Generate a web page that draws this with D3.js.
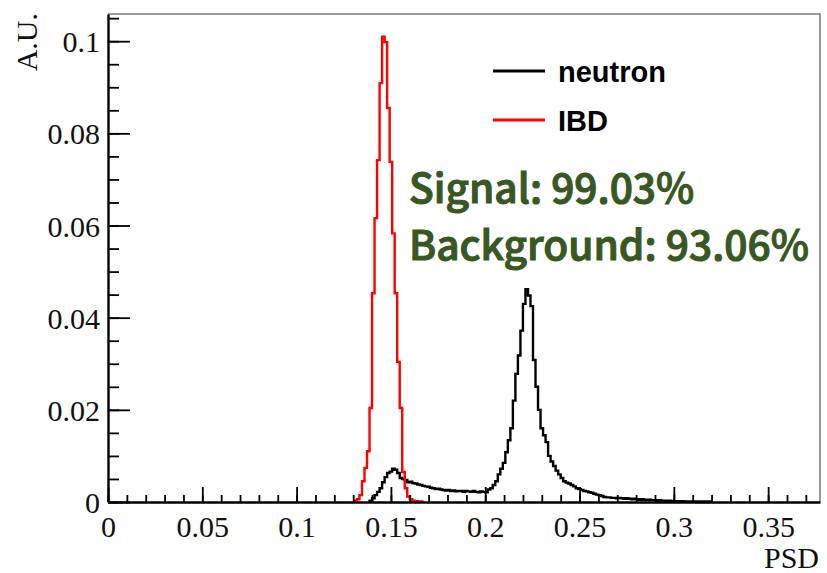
<!DOCTYPE html>
<html>
<head>
<meta charset="utf-8">
<script src="https://cdn.jsdelivr.net/npm/d3@7"></script>
<style>
  body { margin: 0; background: #fff; }
  svg { display: block; }
</style>
</head>
<body>
<svg id="chart"></svg>
<script>
// histogram binning (PSD)
const binWidth = 0.4 / 300;

// IBD histogram, first bin index 98
const ibdFirstBin = 98;
const ibdValues = [
  0.0003, 0.0006, 0.0015, 0.0045, 0.0074, 0.0110, 0.0204, 0.0453, 0.0616, 0.0742,
  0.0909, 0.1010, 0.0998, 0.0855, 0.0738, 0.0583, 0.0453, 0.0304, 0.0204, 0.0065,
  0.0030, 0.0012, 0.0006, 0.0003, 0.0002, 0.0001, 0.0001
];

// neutron histogram, first bin index 104
const neutronFirstBin = 104;
const neutronValues = [
  0.0003, 0.0008, 0.0015, 0.0022, 0.0030, 0.0043, 0.0054, 0.0063, 0.0066, 0.0072,
  0.0070, 0.0063, 0.0052, 0.0050, 0.0048, 0.0043, 0.0044, 0.0041, 0.0040, 0.0038,
  0.0037, 0.0035, 0.0034, 0.0033, 0.0031, 0.0030, 0.0028, 0.0029, 0.0027, 0.0026,
  0.0025, 0.0026, 0.0024, 0.0025, 0.0023, 0.0024, 0.0024, 0.0022, 0.0024, 0.0023,
  0.0022, 0.0024, 0.0022, 0.0021, 0.0023, 0.0022, 0.0021, 0.0027, 0.0030, 0.0037,
  0.0045, 0.0060, 0.0072, 0.0085, 0.0108, 0.0134, 0.0160, 0.0220, 0.0278, 0.0318,
  0.0372, 0.0430, 0.0462, 0.0448, 0.0425, 0.0308, 0.0250, 0.0200, 0.0160, 0.0145,
  0.0130, 0.0100, 0.0088, 0.0078, 0.0068, 0.0060, 0.0052, 0.0045, 0.0042, 0.0040,
  0.0037, 0.0034, 0.0030, 0.0028, 0.0026, 0.0024, 0.0023, 0.0021, 0.0020, 0.0018,
  0.0016, 0.0015, 0.0013, 0.0011, 0.0010, 0.0010, 0.0009, 0.0009, 0.0008, 0.0009,
  0.0008, 0.0007, 0.0008, 0.0007, 0.0006, 0.0007, 0.0006, 0.0005, 0.0006, 0.0005,
  0.0004, 0.0005, 0.0004, 0.0004, 0.0003, 0.0004, 0.0003, 0.0003, 0.0002, 0.0003,
  0.0002, 0.0002, 0.0002, 0.0001, 0.0002, 0.0001, 0.0001, 0.0001, 0.0001, 0.0001,
  0.0000, 0.0001, 0.0000, 0.0001, 0.0000, 0.0001
];

// axis ticks
const xTicks = [0, 0.05, 0.1, 0.15, 0.2, 0.25, 0.3, 0.35];
const xTickLabels = ["0", "0.05", "0.1", "0.15", "0.2", "0.25", "0.3", "0.35"];
const yTicks = [0, 0.02, 0.04, 0.06, 0.08, 0.1];
const yTickLabels = ["0", "0.02", "0.04", "0.06", "0.08", "0.1"];

const legendNames = ["neutron", "IBD"];
const legendColors = ["#000000", "#ff0000"];
const infoLines = ["Signal: 99.03%", "Background: 93.06%"];

const width = 827, height = 573;
const margin = {left: 108, right: 7, top: 14, bottom: 71};

const svg = d3.select('#chart')
    .attr('width', width)
    .attr('height', height);

svg.append('rect')
    .attr('width', width)
    .attr('height', height)
    .attr('fill', '#fff');

var xScale = d3.scaleLinear().domain([0, 0.3775]).range([margin.left, width - margin.right]);
var yScale = d3.scaleLinear().domain([0, 0.1059]).range([height - margin.bottom, margin.top]);

var x0 = xScale.range()[0], x1 = xScale.range()[1];
var y0 = yScale.range()[0], y1 = yScale.range()[1];

// grey frame (top, right)
svg.append('path')
    .attr('d', 'M' + x0 + ',' + y1 + 'H' + x1 + 'V' + y0)
    .attr('fill', 'none')
    .attr('stroke', '#7a7a7a')
    .attr('stroke-width', 1.5);

// step line for a histogram
function histPoints(firstBin, values) {
    var pts = [];
    var start = firstBin * binWidth;
    pts.push([xScale(start), yScale(0)]);
    values.forEach(function(v, i) {
        var a = start + i * binWidth;
        pts.push([xScale(a), yScale(v)]);
        pts.push([xScale(a + binWidth), yScale(v)]);
    });
    pts.push([xScale(start + values.length * binWidth), yScale(0)]);
    return pts;
}

var line = d3.line();

svg.append('path')
    .attr('d', line(histPoints(neutronFirstBin, neutronValues)))
    .attr('fill', 'none')
    .attr('stroke', legendColors[0])
    .attr('stroke-width', 2.4);

svg.append('path')
    .attr('d', line(histPoints(ibdFirstBin, ibdValues)))
    .attr('fill', 'none')
    .attr('stroke', legendColors[1])
    .attr('stroke-width', 2.4);

// x axis: minor ticks, then major ticks with labels
var xMinor = d3.range(0, 0.3775, 0.01);
svg.append('g')
    .attr('transform', 'translate(0,' + y0 + ')')
    .call(d3.axisBottom(xScale).tickValues(xMinor).tickSize(-7).tickFormat(''))
    .call(g => g.select('.domain').remove());

var gx = svg.append('g')
    .attr('transform', 'translate(0,' + y0 + ')')
    .call(d3.axisBottom(xScale)
        .tickValues(xTicks)
        .tickSizeInner(-15)
        .tickSizeOuter(0)
        .tickPadding(14)
        .tickFormat((d, i) => xTickLabels[i]));

// y axis
var yMinor = d3.range(0, 0.1059, 0.005);
svg.append('g')
    .attr('transform', 'translate(' + x0 + ',0)')
    .call(d3.axisLeft(yScale).tickValues(yMinor).tickSize(-11).tickFormat(''))
    .call(g => g.select('.domain').remove());

var gy = svg.append('g')
    .attr('transform', 'translate(' + x0 + ',0)')
    .call(d3.axisLeft(yScale)
        .tickValues(yTicks)
        .tickSizeInner(-22)
        .tickSizeOuter(0)
        .tickPadding(8)
        .tickFormat((d, i) => yTickLabels[i]));

svg.selectAll('.tick line').attr('stroke', '#000').attr('stroke-width', 1.8);
[gx, gy].forEach(function(g) {
    g.select('.domain').attr('stroke', '#000').attr('stroke-width', 2.4);
    g.selectAll('text')
        .attr('fill', '#111')
        .style('font-family', '"Liberation Serif", "Times New Roman", serif')
        .style('font-size', '30px');
});
gy.selectAll('text').attr('dy', '0.35em');

// axis titles
svg.append('text')
    .attr('transform', 'translate(37,' + (y1 - 1) + ') rotate(-90)')
    .attr('text-anchor', 'end')
    .style('font-family', '"Liberation Serif", "Times New Roman", serif')
    .style('font-size', '30px')
    .attr('fill', '#111')
    .text('A.U.');

svg.append('text')
    .attr('x', x1 - 1)
    .attr('y', 568)
    .attr('text-anchor', 'end')
    .style('font-family', '"Liberation Serif", "Times New Roman", serif')
    .style('font-size', '30px')
    .attr('fill', '#111')
    .text('PSD');

// legend
var legend = svg.append('g');
legendNames.forEach(function(name, i) {
    var ly = 71 + i * 49;
    legend.append('line')
        .attr('x1', 493).attr('x2', 545)
        .attr('y1', ly).attr('y2', ly)
        .attr('stroke', legendColors[i])
        .attr('stroke-width', 2.8);
    legend.append('text')
        .attr('x', 558)
        .attr('y', ly + 11)
        .style('font-family', '"Liberation Sans", Arial, sans-serif')
        .style('font-weight', 'bold')
        .style('font-size', '29px')
        .attr('fill', '#000')
        .text(name);
});

// efficiency annotation, sized so the long line spans about 403px
var info = infoLines.map(function(t, i) {
    return svg.append('text')
        .attr('x', 409)
        .attr('y', 203 + i * 57)
        .style('font-family', '"Noto Sans CJK SC", "Noto Sans", sans-serif')
        .style('font-weight', '500')
        .style('font-size', '40px')
        .attr('fill', '#385723')
        .attr('stroke', '#385723')
        .attr('stroke-width', 1.1)
        .text(t);
});
var longW = info[1].node().getComputedTextLength();
var fs = 40 * 400 / longW;
info.forEach(function(t) { t.style('font-size', fs.toFixed(1) + 'px'); });
</script>
</body>
</html>
